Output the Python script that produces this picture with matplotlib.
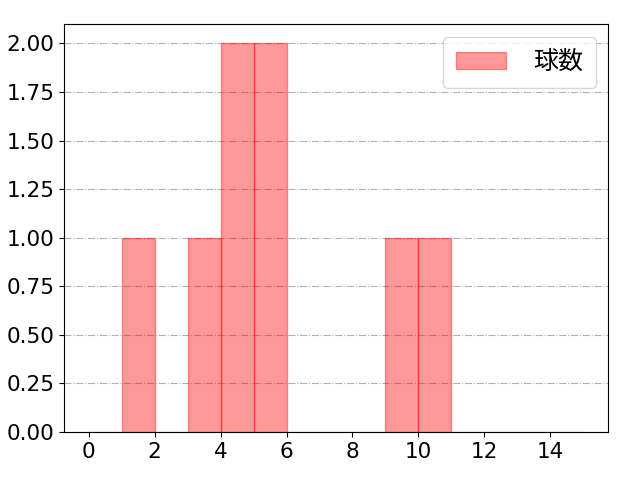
import matplotlib
matplotlib.use('Agg')
import matplotlib.pyplot as plt

plt.rcParams['font.family'] = ['DejaVu Sans', 'Noto Sans CJK JP']
plt.rcParams['font.size'] = 15.5

# observed values (one per event), histogram with unit-width bins
values = [1, 3, 4, 4, 5, 5, 9, 10]
bins = list(range(0, 16))
label = '球数'
xticks = [0, 2, 4, 6, 8, 10, 12, 14]
yticks = [0, 0.25, 0.5, 0.75, 1.0, 1.25, 1.5, 1.75, 2.0]

fig, ax = plt.subplots(figsize=(6.4, 4.8), dpi=100)
fig.subplots_adjust(left=0.10, right=0.95, top=0.95, bottom=0.10)
ax.hist(values, bins=bins, color='red', alpha=0.4, edgecolor='red', label=label)
ax.grid(axis='y', linestyle='-.', color='gray', alpha=0.6)
ax.set_axisbelow(True)
ax.set_xticks(xticks)
ax.set_yticks(yticks)
ax.set_yticklabels([f'{v:.2f}' for v in yticks])
ax.legend(loc='upper right', handletextpad=1.1, borderpad=0.5,
          prop={'family': ['Noto Sans CJK JP'], 'size': 18})
fig.savefig('out.png')
